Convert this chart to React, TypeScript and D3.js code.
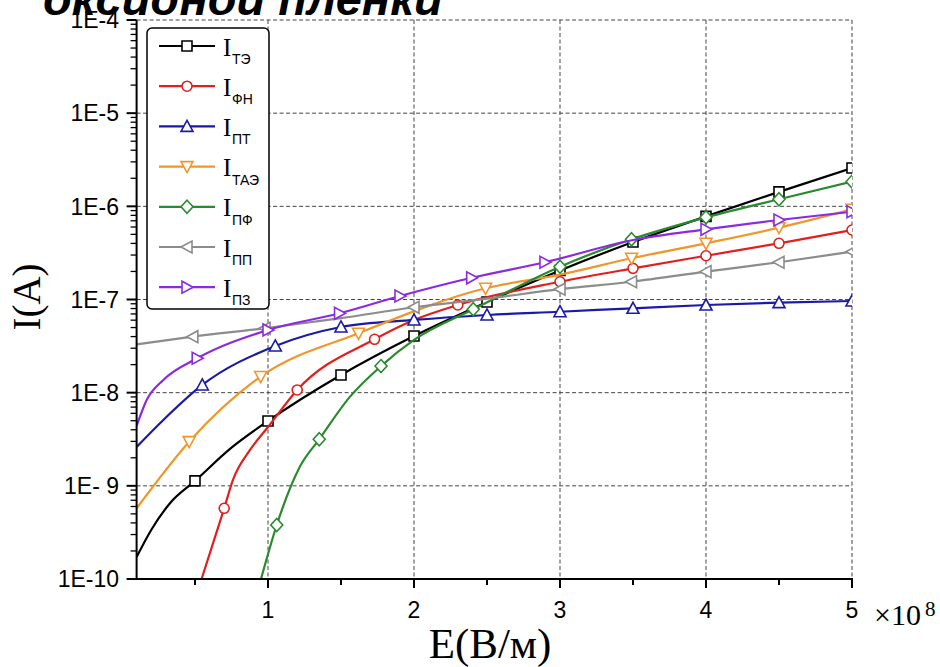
import React from "react";
import * as d3 from "d3";

// ---------- data (E in units of 1e8 V/m, I in A) ----------
const seriesNames = ["ТЭ", "ФН", "ПТ", "ТАЭ", "ПФ", "ПП", "ПЗ"];
const seriesColors = ["#000000", "#e0201c", "#1a1aa8", "#f0962a", "#2a8a2e", "#8c8c8c", "#8a2be2"];
const seriesMarkers = ["square", "circle", "up", "down", "diamond", "left", "right"];

// points: [E, I, marker(1/0)]
const teData: [number, number, number][] = [
  [0.1, 1.72e-10, 0], [0.2, 3.36e-10, 0], [0.33, 6.55e-10, 0], [0.5, 1.13e-9, 1], [0.75, 2.57e-9, 0],
  [1.0, 4.97e-9, 1], [1.5, 1.55e-8, 1], [2.0, 4.06e-8, 1], [2.5, 9.4e-8, 1], [3.0, 2.05e-7, 1],
  [3.5, 4.14e-7, 1], [4.0, 7.8e-7, 1], [4.5, 1.43e-6, 1], [5.0, 2.58e-6, 1],
];
const fnData: [number, number, number][] = [
  [0.545, 1.0e-10, 0], [0.7, 5.74e-10, 1], [0.76, 1.16e-9, 0], [0.877, 2.43e-9, 0], [1.0, 4.28e-9, 0],
  [1.2, 1.07e-8, 1], [1.73, 3.74e-8, 1], [2.0, 6.03e-8, 0], [2.3, 8.73e-8, 1], [3.0, 1.55e-7, 1],
  [3.5, 2.16e-7, 1], [4.0, 2.95e-7, 1], [4.5, 4.01e-7, 1], [5.0, 5.57e-7, 1],
];
const ptData: [number, number, number][] = [
  [0.1, 2.61e-9, 0], [0.283, 5.09e-9, 0], [0.55, 1.21e-8, 1], [1.05, 3.17e-8, 1], [1.5, 5.07e-8, 1],
  [2.0, 6.03e-8, 1], [2.5, 6.82e-8, 1], [3.0, 7.39e-8, 1], [3.5, 8.05e-8, 1], [4.0, 8.73e-8, 1],
  [4.5, 9.25e-8, 1], [5.0, 9.64e-8, 1],
];
const taeData: [number, number, number][] = [
  [0.1, 5.74e-10, 0], [0.46, 2.98e-9, 1], [0.95, 1.49e-8, 1], [1.62, 4.34e-8, 1], [2.49, 1.32e-7, 1],
  [3.0, 1.85e-7, 0], [3.49, 2.77e-7, 1], [4.0, 4.01e-7, 1], [4.5, 5.9e-7, 1], [5.0, 9.29e-7, 1],
];
const pfData: [number, number, number][] = [
  [0.952, 1.0e-10, 0], [1.06, 3.8e-10, 1], [1.219, 1.61e-9, 0], [1.351, 3.16e-9, 1], [1.562, 9.06e-9, 0],
  [1.774, 1.93e-8, 1], [2.0, 3.68e-8, 0], [2.406, 7.85e-8, 1], [3.0, 2.25e-7, 1], [3.49, 4.43e-7, 1],
  [4.0, 7.62e-7, 1], [4.5, 1.19e-6, 1], [5.0, 1.84e-6, 1],
];
const ppData: [number, number, number][] = [
  [0.1, 3.3e-8, 0], [0.485, 3.99e-8, 1], [0.98, 4.91e-8, 1], [1.5, 6.3e-8, 0], [2.0, 8.25e-8, 1],
  [2.5, 1.02e-7, 0], [3.0, 1.29e-7, 1], [3.49, 1.55e-7, 1], [4.0, 1.99e-7, 1], [4.5, 2.51e-7, 1],
  [5.0, 3.26e-7, 1],
];
const pzData: [number, number, number][] = [
  [0.1, 4.4e-9, 0], [0.169, 8.36e-9, 0], [0.283, 1.37e-8, 0], [0.515, 2.34e-8, 1], [1.0, 4.71e-8, 1],
  [1.49, 7.11e-8, 1], [1.904, 1.09e-7, 1], [2.395, 1.71e-7, 1], [2.897, 2.51e-7, 1], [3.5, 4.35e-7, 0],
  [4.0, 5.67e-7, 1], [4.5, 7.13e-7, 1], [5.0, 8.75e-7, 1],
];
const allData = [teData, fnData, ptData, taeData, pfData, ppData, pzData];

const xMajorTicks = [1, 2, 3, 4, 5];
const xMinorTicks = [0.5, 1.5, 2.5, 3.5, 4.5];
const yTickValues = [1e-4, 1e-5, 1e-6, 1e-7, 1e-8, 1e-9, 1e-10];
const yTickLabels = ["1E-4", "1E-5", "1E-6", "1E-7", "1E-8", "1E- 9", "1E-10"];
const titleText = "оксидной пленки";
const xLabel = "E(В/м)";
const yLabel = "I(A)";

// ---------- layout ----------
const W = 940, H = 667;
const L = 136.6, R = 852, T = 20, B = 579;
const SANS = "'Liberation Sans', Arial, sans-serif";
const SERIF = "'Liberation Serif', 'Times New Roman', serif";

function markerPath(kind: string): string {
  switch (kind) {
    case "square": return "M-5,-5H5V5H-5Z";
    case "circle": return "M5,0A5,5 0 1,1 -5,0A5,5 0 1,1 5,0Z";
    case "up": return "M0,-6L6,5L-6,5Z";
    case "down": return "M0,6L6,-5L-6,-5Z";
    case "left": return "M-6,0L5,-6L5,6Z";
    case "right": return "M6,0L-5,-6L-5,6Z";
    case "diamond": return "M0,-6.5L6,0L0,6.5L-6,0Z";
  }
  return "";
}

export default function App() {
  const x = d3.scaleLinear().domain([0.1, 5]).range([L, R]);
  const y = d3.scaleLog().domain([1e-10, 1e-4]).range([B, T]);
  const line = d3.line<[number, number, number]>()
    .x((d) => x(d[0]))
    .y((d) => y(d[1]))
    .curve(d3.curveMonotoneX);

  const yMinor: number[] = [];
  for (let e = -10; e < -4; e++) for (let k = 2; k <= 9; k++) yMinor.push(k * Math.pow(10, e));

  const legendY0 = 46, legendStep = 40.2;

  return (
    <svg width={W} height={H} style={{ position: "absolute", left: 0, top: 0, background: "#fff" }}>
      <defs>
        <clipPath id="plotClip">
          <rect x={L} y={T - 1} width={R - L} height={B - T + 1} />
        </clipPath>
      </defs>
      <rect x={0} y={0} width={W} height={H} fill="#fff" />
      {/* grid */}
      <g stroke="#444" strokeWidth={1} strokeDasharray="4,2.5" fill="none">
        {yTickValues.slice(0, 6).map((v, i) => (
          <line key={"gy" + i} x1={L} x2={R} y1={y(v)} y2={y(v)} />
        ))}
        {xMajorTicks.map((v) => (
          <line key={"gx" + v} x1={x(v)} x2={x(v)} y1={T} y2={B} />
        ))}
      </g>
      {/* series */}
      <g clipPath="url(#plotClip)">
        {allData.map((data, i) => (
          <g key={"s" + i}>
            <path d={line(data) || ""} fill="none" stroke={seriesColors[i]} strokeWidth={2.2} />
            {data.filter((d) => d[2] === 1).map((d, j) => (
              <path key={j} d={markerPath(seriesMarkers[i])}
                transform={`translate(${x(d[0])},${y(d[1])})`}
                fill="#fff" stroke={seriesColors[i]} strokeWidth={1.6} />
            ))}
          </g>
        ))}
      </g>
      {/* axes */}
      <g stroke="#000" strokeWidth={2}>
        <line x1={L} x2={L} y1={T} y2={B + 1} />
        <line x1={L - 1} x2={R + 1} y1={B} y2={B} />
        {yTickValues.map((v, i) => (
          <line key={"yt" + i} x1={L - 10} x2={L} y1={y(v)} y2={y(v)} />
        ))}
        {yMinor.map((v, i) => (
          <line key={"ym" + i} x1={L - 6} x2={L} y1={y(v)} y2={y(v)} strokeWidth={1.3} />
        ))}
        {xMajorTicks.map((v) => (
          <line key={"xt" + v} x1={x(v)} x2={x(v)} y1={B} y2={B + 9} />
        ))}
        {xMinorTicks.map((v) => (
          <line key={"xm" + v} x1={x(v)} x2={x(v)} y1={B} y2={B + 6} />
        ))}
      </g>
      {/* tick labels */}
      <g fontFamily={SANS} fontSize={23} fill="#000">
        {yTickValues.map((v, i) => (
          <text key={"yl" + i} x={119} y={y(v)} dy="0.36em" textAnchor="end">{yTickLabels[i]}</text>
        ))}
        {xMajorTicks.map((v) => (
          <text key={"xl" + v} x={x(v)} y={618} textAnchor="middle">{v}</text>
        ))}
      </g>
      {/* multiplier */}
      <text x={874} y={625} fontFamily={SERIF} fontSize={30} fill="#000">×10</text>
      <text x={925} y={616} fontFamily={SERIF} fontSize={21} fill="#000">8</text>
      {/* axis titles */}
      <text x={490} y={658} textAnchor="middle" fontFamily={SERIF} fontSize={43} fill="#000">{xLabel}</text>
      <text transform="translate(40,297) rotate(-90)" textAnchor="middle" fontFamily={SERIF} fontSize={39} fill="#000">{yLabel}</text>
      {/* legend */}
      <rect x={147} y={28} width={122} height={281} rx={5} ry={5} fill="#fff" stroke="#000" strokeWidth={1.5} />
      {seriesNames.map((name, i) => {
        const cy = legendY0 + i * legendStep;
        return (
          <g key={"lg" + i}>
            <line x1={159} x2={215} y1={cy} y2={cy} stroke={seriesColors[i]} strokeWidth={2.2} />
            <path d={markerPath(seriesMarkers[i])} transform={`translate(187,${cy})`}
              fill="#fff" stroke={seriesColors[i]} strokeWidth={1.6} />
            <text x={223} y={cy + 9.5} fontFamily={SERIF} fontSize={25} fill="#000">I</text>
            <text x={232} y={cy + 18} fontFamily={SANS} fontSize={14} fill="#000">{name}</text>
          </g>
        );
      })}
      {/* title (cut at top) */}
      <text x={43} y={15} fontFamily={SANS} fontSize={47} fontWeight="bold" fontStyle="italic" fill="#000">{titleText}</text>
    </svg>
  );
}
